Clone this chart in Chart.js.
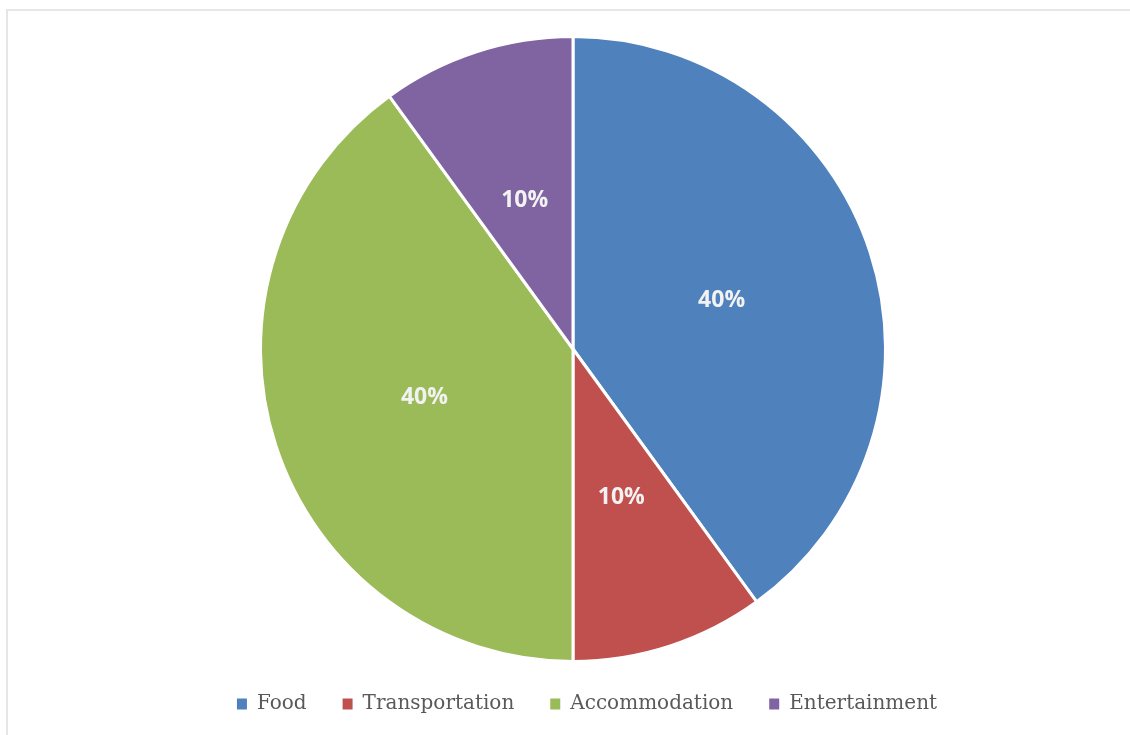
<!DOCTYPE html>
<html>
<head>
<meta charset="utf-8">
<script src="https://cdn.jsdelivr.net/npm/chart.js@4"></script>
<style>
  html, body { margin: 0; padding: 0; background: #fff; }
  #marco {
    position: absolute; left: 6px; top: 9px; width: 1124px; height: 726px;
    border-left: 2px solid #e6e6e6; border-top: 2px solid #e6e6e6;
    box-sizing: border-box;
  }
  #graficoGastos { position: absolute; left: 0; top: 0; }
</style>
</head>
<body>
<div id="marco"><canvas id="graficoGastos"></canvas></div>
<script>
let categorias = ["Food", "Transportation", "Accommodation", "Entertainment"];
let porcentajes = [40, 10, 40, 10];
let colores = ['#4F81BD', '#C0504D', '#9BBB59', '#8064A2'];

// etiquetas de porcentaje a media distancia del radio
let etiquetasPorcentaje = {
  id: 'etiquetasPorcentaje',
  afterDatasetsDraw(chart) {
    let ctx = chart.ctx;
    let meta = chart.getDatasetMeta(0);
    ctx.save();
    ctx.font = 'bold 23px "Open Sans"';
    ctx.fillStyle = '#f2f2f2';
    ctx.textAlign = 'center';
    ctx.textBaseline = 'middle';
    meta.data.forEach((arco, i) => {
      let p = arco.getProps(['x', 'y', 'startAngle', 'endAngle', 'outerRadius']);
      let medio = (p.startAngle + p.endAngle) / 2;
      let r = p.outerRadius * 0.5;
      ctx.fillText(porcentajes[i] + '%', p.x + Math.cos(medio) * r, p.y + Math.sin(medio) * r);
    });
    ctx.restore();
  }
};

// la leyenda va un poco a la derecha del centro del pastel
let desplazarLeyenda = {
  id: 'desplazarLeyenda',
  afterLayout(chart) {
    let l = chart.legend;
    l.left += 14; l.right += 14;
    l.top -= 5; l.bottom -= 5;
  }
};

// cuadros de la leyenda sin el borde blanco de los sectores
let etiquetasBase = Chart.overrides.pie.plugins.legend.labels.generateLabels;

let ctx = document.getElementById("graficoGastos").getContext("2d");
let grafico = new Chart(ctx, {
  type: "pie",
  data: {
    labels: categorias,
    datasets: [{
      data: porcentajes,
      backgroundColor: colores,
      borderColor: '#ffffff',
      borderWidth: 3,
    }],
  },
  options: {
    responsive: true,
    maintainAspectRatio: false,
    animation: false,
    layout: { padding: { top: 24, left: 8, bottom: 6 } },
    plugins: {
      tooltip: { enabled: false },
      legend: {
        position: 'bottom',
        labels: {
          boxWidth: 10,
          boxHeight: 11,
          padding: 36,
          color: '#595959',
          font: { family: '"DejaVu Serif"', size: 20 },
          generateLabels: (chart) => etiquetasBase(chart).map(e => ({ ...e, lineWidth: 0 })),
        },
      },
    },
  },
  plugins: [etiquetasPorcentaje, desplazarLeyenda],
});
</script>
</body>
</html>
